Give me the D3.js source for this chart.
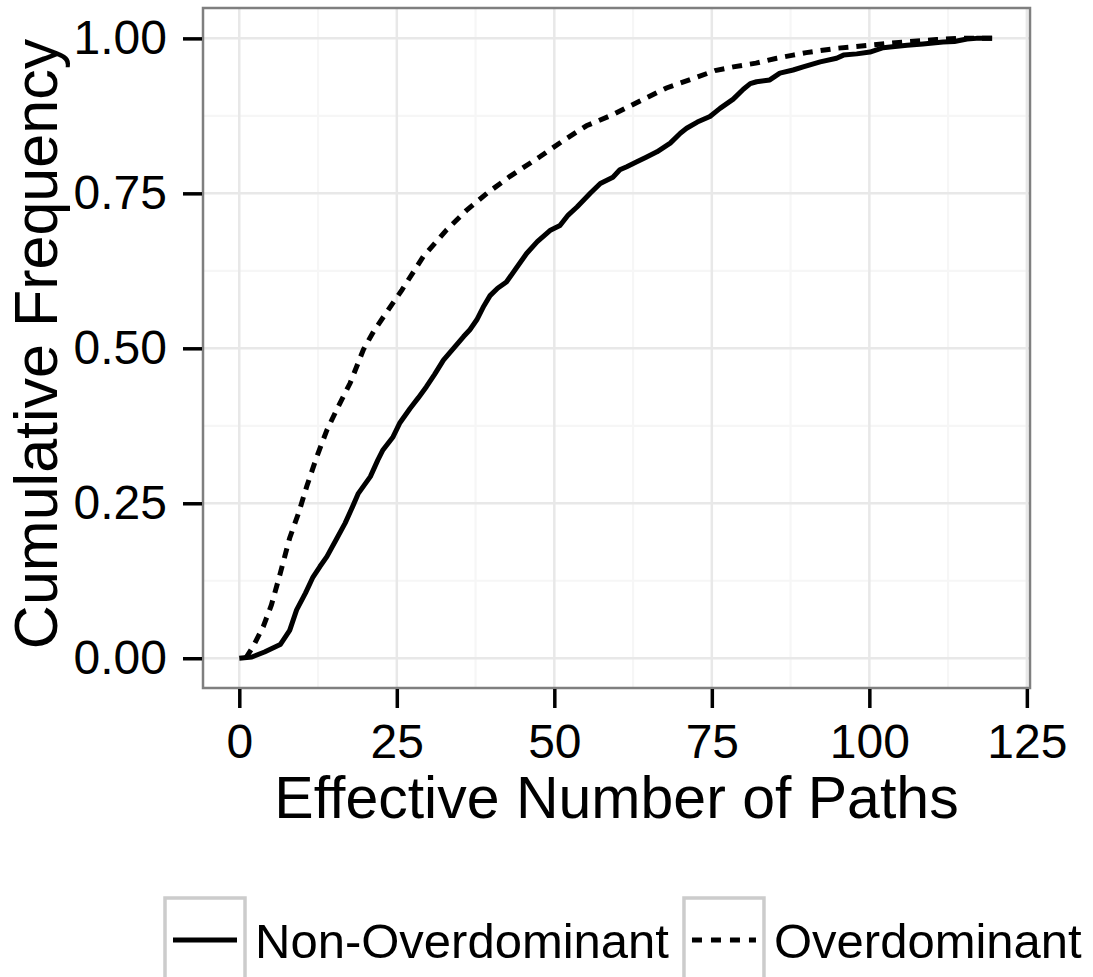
<!DOCTYPE html>
<html>
<head>
<meta charset="utf-8">
<script src="https://cdn.jsdelivr.net/npm/d3@7"></script>
<style>
  body { margin: 0; background: #fff; }
  svg { display: block; font-family: "Liberation Sans", Arial, Helvetica, sans-serif; }
</style>
</head>
<body>
<div id="chart"></div>
<script>
// values (effective number of paths, cumulative frequency)
const nonOverX = [0, 2, 4, 6.5, 8, 9.1, 10.5, 11.7, 12.8, 13.9, 15.3, 16.8, 18, 18.9, 20.8, 22, 22.8, 24.4, 25.5, 27.1,
  28.4, 29.7, 31, 32.4, 34, 35.6, 36.6, 37.7, 38.8, 39.8, 41, 42.4, 44, 45.6, 47.3, 49.3, 50.9, 52.2, 53.6, 55.7,
  57.3, 59.3, 60.4, 61.5, 63.1, 64.5, 66.3, 68.4, 70, 71, 72.7, 74.7, 76.3, 78.4, 80, 81.1, 82.1, 84.2, 85.8, 87.9,
  89.5, 92.2, 94.8, 95.9, 98, 100.1, 102.2, 103.3, 106, 108.5, 111.7, 113.5, 115.5, 117, 119.5];
const nonOverY = [0, 0.002, 0.01, 0.022, 0.045, 0.078, 0.105, 0.131, 0.148, 0.164, 0.19, 0.218, 0.245, 0.266, 0.293, 0.32, 0.336, 0.357, 0.38, 0.403,
  0.42, 0.438, 0.458, 0.481, 0.5, 0.519, 0.53, 0.546, 0.568, 0.585, 0.597, 0.607, 0.63, 0.653, 0.672, 0.69, 0.698, 0.715, 0.728, 0.75,
  0.766, 0.776, 0.788, 0.793, 0.801, 0.808, 0.817, 0.831, 0.847, 0.855, 0.865, 0.874, 0.887, 0.902, 0.918, 0.927, 0.93, 0.933, 0.944, 0.949,
  0.954, 0.962, 0.968, 0.973, 0.975, 0.978, 0.985, 0.986, 0.989, 0.991, 0.994, 0.995, 0.999, 1.0, 1.0];

const overX = [1, 2.2, 3.8, 5.1, 6.5, 8, 9.4, 10.7, 12.3, 13.9, 15.7, 17.6, 19.7, 21.3, 22.9, 25.8, 29.2, 32.9, 36.1, 39.3,
  42.9, 47.7, 51.4, 55.1, 59.3, 63.6, 67.8, 72, 75.5, 78.4, 82, 85.3, 87.9, 90, 94.8, 100.1, 105.3, 110.7, 114.4, 119.5];
const overY = [0, 0.019, 0.051, 0.086, 0.137, 0.194, 0.234, 0.277, 0.325, 0.368, 0.406, 0.444, 0.498, 0.527, 0.551, 0.594, 0.648, 0.691, 0.723, 0.75,
  0.777, 0.809, 0.835, 0.859, 0.877, 0.899, 0.92, 0.935, 0.948, 0.954, 0.96, 0.968, 0.973, 0.977, 0.984, 0.989, 0.994, 0.998, 1.0, 1.0];

const xTicks = [0, 25, 50, 75, 100, 125];
const yTicks = [0, 0.25, 0.5, 0.75, 1];
const xMinor = [12.5, 37.5, 62.5, 87.5, 112.5];
const yMinor = [0.125, 0.375, 0.625, 0.875];
const seriesNames = ["Non-Overdominant", "Overdominant"];

const W = 1093, H = 977;
const panel = { left: 203, top: 8, right: 1030, bottom: 688 };
const dash = "10,8";

const svg = d3.select("#chart").append("svg").attr("width", W).attr("height", H);

const x = d3.scaleLinear().domain([-5.76, 125.5]).range([panel.left, panel.right]);
const y = d3.scaleLinear().domain([-0.048, 1.049]).range([panel.bottom, panel.top]);

// grid
const grid = svg.append("g");
grid.selectAll(".xmin").data(xMinor).join("line")
  .attr("x1", d => x(d)).attr("x2", d => x(d)).attr("y1", panel.top).attr("y2", panel.bottom)
  .attr("stroke", "#f6f6f6").attr("stroke-width", 2.2);
grid.selectAll(".ymin").data(yMinor).join("line")
  .attr("y1", d => y(d)).attr("y2", d => y(d)).attr("x1", panel.left).attr("x2", panel.right)
  .attr("stroke", "#f6f6f6").attr("stroke-width", 2.2);
grid.selectAll(".xmaj").data(xTicks).join("line")
  .attr("x1", d => x(d)).attr("x2", d => x(d)).attr("y1", panel.top).attr("y2", panel.bottom)
  .attr("stroke", "#e8e8e8").attr("stroke-width", 2.5);
grid.selectAll(".ymaj").data(yTicks).join("line")
  .attr("y1", d => y(d)).attr("y2", d => y(d)).attr("x1", panel.left).attr("x2", panel.right)
  .attr("stroke", "#e8e8e8").attr("stroke-width", 2.5);

// lines
const line = d3.line().x(d => x(d[0])).y(d => y(d[1]));
const solidData = nonOverX.map((v, i) => [v, nonOverY[i]]);
const dashData = overX.map((v, i) => [v, overY[i]]);

svg.append("path").datum(dashData).attr("d", line)
  .attr("fill", "none").attr("stroke", "#000").attr("stroke-width", 5)
  .attr("stroke-dasharray", dash);
svg.append("path").datum(solidData).attr("d", line)
  .attr("fill", "none").attr("stroke", "#000").attr("stroke-width", 5)
  .attr("stroke-linejoin", "round");

// panel border
svg.append("rect")
  .attr("x", panel.left).attr("y", panel.top)
  .attr("width", panel.right - panel.left).attr("height", panel.bottom - panel.top)
  .attr("fill", "none").attr("stroke", "#7f7f7f").attr("stroke-width", 2.5);

// axes
const xAxis = svg.append("g").attr("transform", `translate(0,${panel.bottom + 1})`)
  .call(d3.axisBottom(x).tickValues(xTicks).tickSize(19).tickPadding(16).tickFormat(d3.format("d")));
const yAxis = svg.append("g").attr("transform", `translate(${panel.left - 1},0)`)
  .call(d3.axisLeft(y).tickValues(yTicks).tickSize(19).tickPadding(16).tickFormat(d3.format(".2f")));

[xAxis, yAxis].forEach(g => {
  g.select(".domain").remove();
  g.selectAll(".tick line").attr("stroke", "#000").attr("stroke-width", 3.5);
  g.selectAll(".tick text").attr("fill", "#000").attr("font-size", 48)
    .attr("font-family", "Liberation Sans, Arial, sans-serif");
});

// axis titles
svg.append("text")
  .attr("x", (panel.left + panel.right) / 2).attr("y", 818)
  .attr("text-anchor", "middle").attr("font-size", 59).text("Effective Number of Paths");
svg.append("text")
  .attr("transform", `translate(57,${(panel.top + panel.bottom) / 2 - 4}) rotate(-90)`)
  .attr("text-anchor", "middle").attr("font-size", 61).text("Cumulative Frequency");

// legend
const legend = svg.append("g");
let lx = 165;
const keyW = 80, keyTop = 898, keyH = 82;
seriesNames.forEach((name, i) => {
  legend.append("rect").attr("x", lx).attr("y", keyTop).attr("width", keyW).attr("height", keyH)
    .attr("fill", "#fff").attr("stroke", "#cccccc").attr("stroke-width", 3.5);
  legend.append("line").attr("x1", lx + 8).attr("x2", lx + keyW - 8)
    .attr("y1", keyTop + 42).attr("y2", keyTop + 42)
    .attr("stroke", "#000").attr("stroke-width", 5)
    .attr("stroke-dasharray", i === 1 ? "10,9" : null);
  const t = legend.append("text").attr("x", lx + keyW + 10).attr("y", keyTop + 42)
    .attr("dy", "0.36em").attr("font-size", 49).text(name);
  lx += keyW + 10 + t.node().getComputedTextLength() + 15;
});
</script>
</body>
</html>
